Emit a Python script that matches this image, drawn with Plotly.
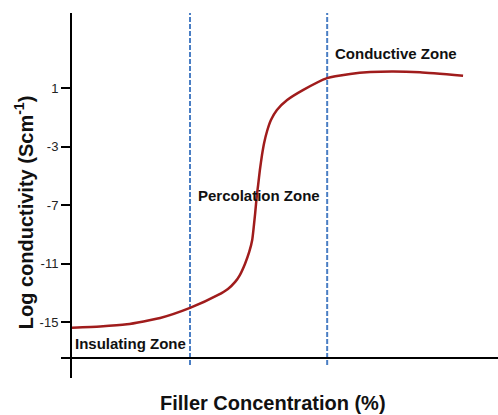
import plotly.graph_objects as go

# Data (filler concentration in arbitrary %-units, log conductivity)
conc = [0, 6.6, 12.9, 20.7, 27.7, 34.3, 36.6, 38.3, 39.4, 40.6, 41.6, 42.3, 43.0, 43.4, 43.7, 44.1, 44.6, 45.1, 45.8, 46.7, 48.1, 50.5, 54.2, 59.9, 65.3, 70.0, 75.4, 81.7, 91.8]
logcond = [-15.39, -15.31, -15.16, -14.73, -14.04, -13.15, -12.74, -12.26, -11.79, -11.03, -10.21, -9.39, -7.55, -6.32, -5.63, -4.61, -3.58, -2.76, -1.94, -1.19, -0.50, 0.18, 0.86, 1.68, 1.96, 2.09, 2.13, 2.07, 1.84]

zone_bounds = [27.7, 59.9]
zone_labels = ["Insulating Zone", "Percolation Zone", "Conductive Zone"]
zone_label_x = [0.3, 29.1, 61.3]
zone_label_y = [-16.44, -6.32, 3.39]

y_tickvals = [1, -3, -7, -11, -15, -17.46]
y_ticktext = ["1", "-3", "-7", "-11", "-15", " "]
x_axis_level = -17.46
y_range = [-18.83, 6.13]
x_range = [0, 100]

FONT = "Liberation Sans, Arial, sans-serif"

fig = go.Figure()

# zone boundaries (dashed)
for xb in zone_bounds:
    fig.add_trace(go.Scatter(
        x=[xb, xb], y=[-17.94, y_range[1]], mode="lines",
        line=dict(color="#4a7ec4", width=2, dash="5px,2px"),
        showlegend=False, hoverinfo="skip"))

# curve
fig.add_trace(go.Scatter(
    x=conc, y=logcond, mode="lines",
    line=dict(color="#a01c1c", width=2.5, shape="spline", smoothing=0.5),
    showlegend=False))

# x axis baseline
fig.add_shape(type="line", xref="x", yref="y", x0=x_range[0], x1=x_range[1],
              y0=x_axis_level, y1=x_axis_level, line=dict(color="black", width=2))

for txt, lx, ly in zip(zone_labels, zone_label_x, zone_label_y):
    fig.add_annotation(x=lx, y=ly, xref="x", yref="y", text="<b>" + txt + "</b>",
                       showarrow=False, xanchor="left", yanchor="middle",
                       font=dict(family=FONT, size=15, color="#111111"))

fig.add_annotation(x=-0.112, y=0.4548, xref="paper", yref="paper",
                   text="<b>Log conductivity (Scm<sup>-1</sup>)</b>", textangle=-90,
                   showarrow=False, xanchor="center", yanchor="middle",
                   font=dict(family=FONT, size=20, color="#111111"))
fig.add_annotation(x=0.472, y=-0.0685, xref="paper", yref="paper",
                   text="<b>Filler Concentration (%)</b>",
                   showarrow=False, xanchor="center", yanchor="middle",
                   font=dict(family=FONT, size=20, color="#111111"))

fig.update_layout(
    width=498, height=415,
    margin=dict(l=72, r=0, t=13, b=37),
    paper_bgcolor="white", plot_bgcolor="white",
    xaxis=dict(range=x_range, showgrid=False, zeroline=False, showline=False,
               showticklabels=False, ticks=""),
    yaxis=dict(range=y_range, showgrid=False, zeroline=False, showline=True,
               linecolor="black", linewidth=2, ticks="outside", ticklen=9,
               tickwidth=2, tickcolor="black", tickvals=y_tickvals, ticktext=y_ticktext,
               tickfont=dict(family=FONT, size=13, color="#222222")),
)

fig.write_html("out.html", config={"displayModeBar": False},
               post_script="document.body.style.margin='0';document.body.style.overflow='hidden';")
